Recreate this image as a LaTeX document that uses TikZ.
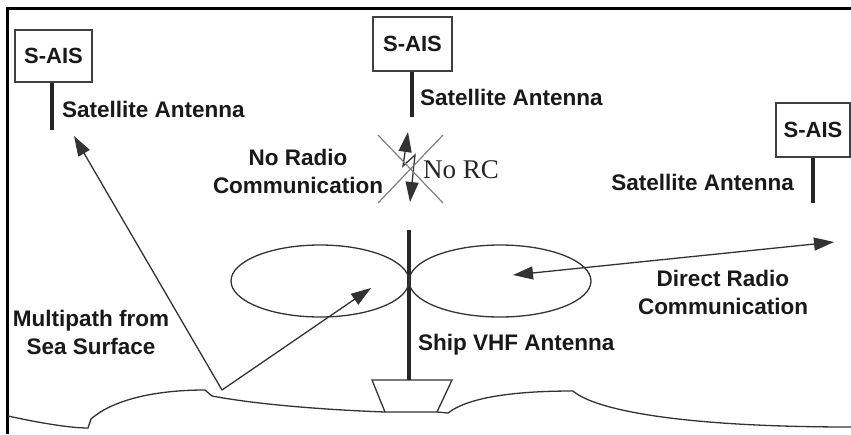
\documentclass[tikz,border=0pt]{standalone}
\usepackage{fontspec}
\setmainfont{Liberation Sans}
\newfontfamily\rcserif{Liberation Serif}
\usetikzlibrary{arrows.meta}
\begin{document}
\begin{tikzpicture}[x=1pt,y=-1pt,
  lbl/.style={font=\fontsize{22.5}{28}\selectfont\bfseries, text=black!90, inner sep=0pt},
  saisbox/.style={draw=black!75, line width=1.4pt, font=\fontsize{22}{26}\selectfont\bfseries, text=black!90, inner sep=0pt},
  mast/.style={line width=4pt, black!85},
  thin/.style={line width=1.3pt, black!80},
  arr/.style={thin, -{Triangle[length=20pt,width=13pt]}},
  darr/.style={thin, {Triangle[length=20pt,width=13pt]}-{Triangle[length=20pt,width=13pt]}},
  cross/.style={line width=1.2pt, black!50}]
\useasboundingbox (0,0) rectangle (851,434);
\fill[white] (0,0) rectangle (851,434);
% frame
\draw[line width=3pt] (7,434) -- (7,8) -- (851,8);

% satellites
\node[saisbox, minimum width=77pt, minimum height=52pt] (b1) at (53.5,56) {S-AIS};
\node[saisbox, minimum width=79pt, minimum height=54pt] (b2) at (412.5,44) {S-AIS};
\node[saisbox, minimum width=74pt, minimum height=54pt] (b3) at (813,130) {S-AIS};
\coordinate (a1) at (52,130);
\coordinate (a2) at (412,117);
\coordinate (a3) at (813,203);
\draw[mast] (b1.south -| a1) -- (a1);
\draw[mast] (b2.south -| a2) -- (a2);
\draw[mast] (b3.south -| a3) -- (a3);
\node[lbl, anchor=west] (l1) at (62,109) {Satellite Antenna};
\node[lbl, anchor=west] (l2) at (420,97) {Satellite Antenna};
\node[lbl, anchor=east] (l3) at (794,182) {Satellite Antenna};

% no radio communication
\node[lbl, align=center] (nrc) at (298,171) {No Radio\\Communication};
\coordinate (zt) at (408,132);
\coordinate (zb) at (410,202);
\draw[darr] (zt) -- (403,166) -- (415,155) -- (zb);
\coordinate (x1) at (378,135);
\coordinate (x2) at (443,203);
\coordinate (x3) at (443,135);
\coordinate (x4) at (378,203);
\draw[cross] (x1) -- (x2);
\draw[cross] (x3) -- (x4);
\node[font=\fontsize{27}{30}\selectfont\rcserif, text=black!85, anchor=west, inner sep=0pt] (norc) at (423,170) {No RC};

% ship
\draw[thin] (372,380) -- (452,380) -- (437,412) -- (385,412) -- cycle;
\coordinate (sb) at (409,380);
\coordinate (st) at (409,230);
\draw[mast] (sb) -- (st);
\node[lbl, anchor=west] (ship) at (418,345) {Ship VHF Antenna};
\draw[thin] (320,281) ellipse [x radius=89, y radius=36];
\draw[thin] (500,281) ellipse [x radius=91, y radius=36];

% sea surface
\draw[thin] (8,416) .. controls (40,423) and (70,428) .. (88,428)
  -- (91,419) .. controls (115,398) and (160,390) .. (205,390)
  -- (212,396) .. controls (260,405) and (330,410) .. (385,412)
  (437,412) -- (448,413) .. controls (470,396) and (520,391) .. (573,391)
  .. controls (595,410) and (680,427) .. (851,427);

% multipath
\coordinate (refl) at (222,390);
\coordinate (mp1) at (74,136);
\coordinate (mp2) at (371,288);
\draw[arr] (refl) -- (mp1);
\draw[arr] (refl) -- (mp2);
\node[lbl, align=center] (mp) at (91,332) {Multipath from\\Sea Surface};

% direct radio
\coordinate (d1) at (513,275);
\coordinate (d2) at (834,242);
\draw[darr] (d1) -- (d2);
\node[lbl, align=center] (dr) at (723,292) {Direct Radio\\Communication};
\end{tikzpicture}
\end{document}
